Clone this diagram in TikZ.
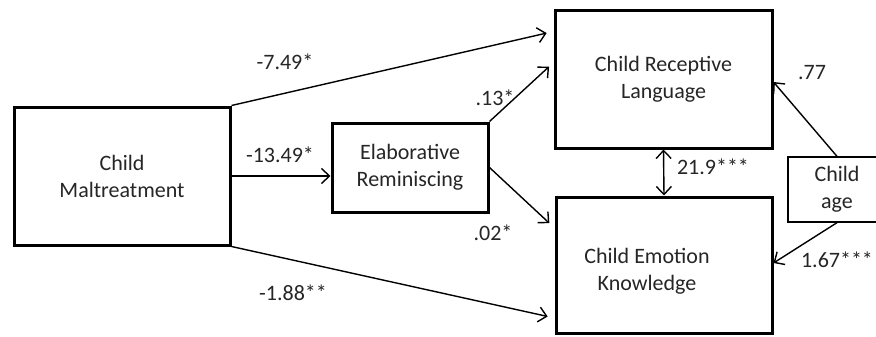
\documentclass[tikz,border=0pt]{standalone}
\usepackage{fontspec}
\setmainfont{Carlito}
\usetikzlibrary{arrows.meta,calc}
\definecolor{txt}{HTML}{262626}
\tikzset{
  bigbox/.style={draw=black, line width=3pt, minimum width=#1, inner sep=0pt},
  thinbox/.style={draw=black, line width=1.3pt, inner sep=0pt},
  lbl/.style={font=\fontsize{22}{27}\selectfont, text=txt, align=center, inner sep=0pt},
  conn/.style={line width=1.4pt, -{Straight Barb[length=8pt,width=15pt,line width=1.4pt]}},
  dconn/.style={line width=1.4pt, {Straight Barb[length=8pt,width=15pt,line width=1.4pt]}-{Straight Barb[length=8pt,width=15pt,line width=1.4pt]}}
}
\begin{document}
\begin{tikzpicture}[x=1pt,y=-1pt]
\clip (0,0) rectangle (876,337);
\fill[white] (0,0) rectangle (876,337);
% boxes
\node[bigbox=216pt, minimum height=138pt, lbl] (m) at (122,176) {Child\\Maltreatment};
\node[bigbox=156pt, minimum height=89pt, lbl] (e) at (410,167.5) {Elaborative\\Reminiscing};
\node[bigbox=217pt, minimum height=137pt, lbl] (rl) at (663.5,79.5) {Child Receptive\\Language};
\node[bigbox=216pt, minimum height=136pt] (ek) at (664,265) {};
\node[lbl] (ekt) at (647,271) {Child Emotion\\Knowledge};
\node[thinbox, minimum width=98pt, minimum height=65pt, lbl] (age) at (837,189.5) {Child\\age};
% connectors
\draw[conn, shorten >=7pt] (m.north east) -- ([yshift=48pt]rl.west);
\draw[conn, shorten >=6pt] (e.north east) -- ([yshift=17pt]rl.west);
\draw[conn] (m.east) -- (m.east -| e.west);
\draw[conn, shorten >=7pt] (e.east) -- ([yshift=37pt]ek.west);
\draw[conn, shorten >=7pt] (m.south east) -- ([yshift=-53pt]ek.west);
\draw[dconn] (rl.south) -- (ek.north);
\draw[conn] (age.north) -- ([yshift=-2.5pt]rl.east);
\draw[conn] (age.south) -- ([yshift=2pt]ek.east);
% labels
\node[lbl] (l1) at (285,62) {-7.49*};
\node[lbl] (l2) at (280,155) {-13.49*};
\node[lbl] (l3) at (495,98) {.13*};
\node[lbl] (l4) at (493,233) {.02*};
\node[lbl] (l5) at (293,293) {-1.88**};
\node[lbl] (l6) at (812,73) {.77};
\node[lbl] (l7) at (713,167) {21.9***};
\node[lbl] (l8) at (837,260) {1.67***};
\end{tikzpicture}
\end{document}
